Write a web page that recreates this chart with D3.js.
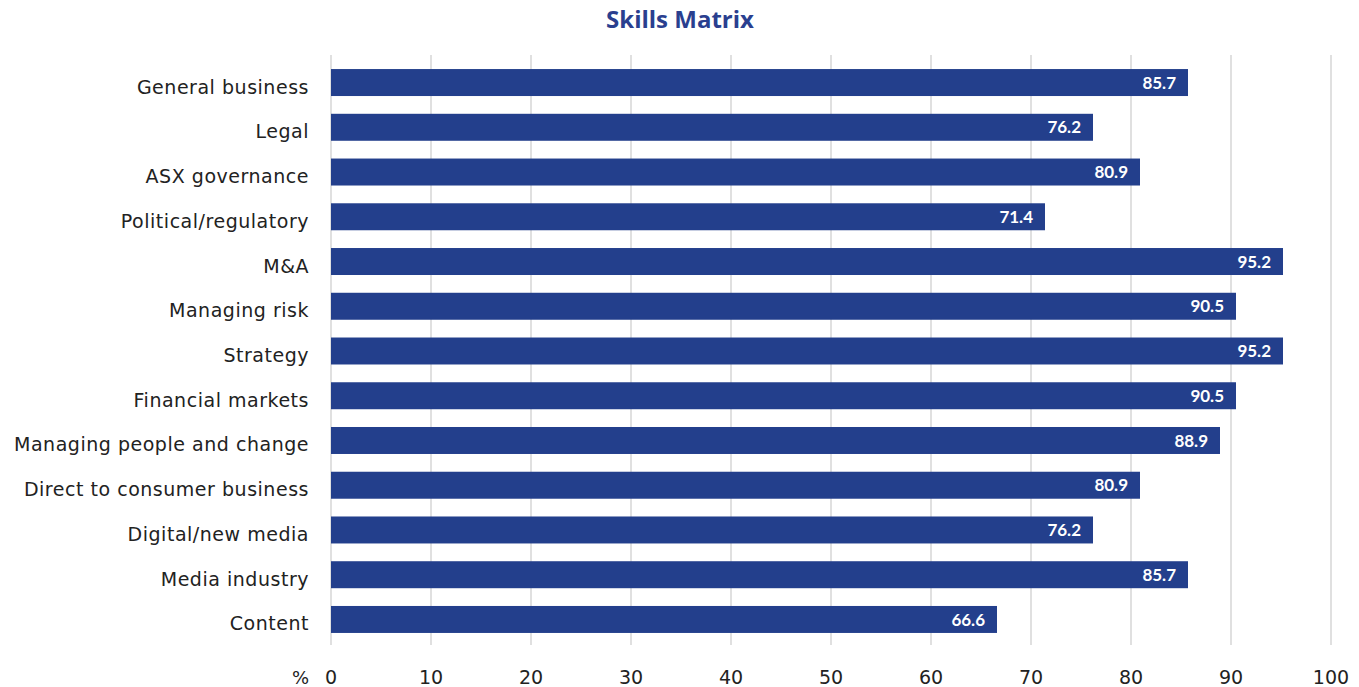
<!DOCTYPE html>
<html><head><meta charset="utf-8">
<script src="https://cdn.jsdelivr.net/npm/d3@7"></script>
<style>body{margin:0;background:#fff}svg{display:block}</style>
</head><body><svg id="c" width="1359" height="687"></svg>
<script>
const categories = ["General business","Legal","ASX governance","Political/regulatory","M&A","Managing risk","Strategy","Financial markets","Managing people and change","Direct to consumer business","Digital/new media","Media industry","Content"];
const values = [85.7,76.2,80.9,71.4,95.2,90.5,95.2,90.5,88.9,80.9,76.2,85.7,66.6];
const ticks = [0,10,20,30,40,50,60,70,80,90,100];
const title = "Skills Matrix";

const svg = d3.select("#c");
const x = d3.scaleLinear().domain([0,100]).range([331,1331]);
const y = d3.scaleBand().domain(categories).range([60.1,641.9]).paddingInner(0.397).paddingOuter(0.2);
const navy = "#233f8c";
const font = "'DejaVu Sans', sans-serif";

svg.append("g").selectAll("line").data(ticks).join("line")
  .attr("x1", d=>x(d)).attr("x2", d=>x(d)).attr("y1",55).attr("y2",645)
  .attr("stroke","#d9d9d9").attr("stroke-width",1.6);

svg.append("g").selectAll("rect").data(values).join("rect")
  .attr("x", x(0)).attr("y",(d,i)=>y(categories[i]))
  .attr("width", d=>x(d)-x(0)).attr("height", y.bandwidth()).attr("fill", navy);

svg.append("g").selectAll("text").data(values).join("text")
  .attr("x", d=>x(d)-12).attr("y",(d,i)=>y(categories[i])+y.bandwidth()/2)
  .attr("dy","0.36em").attr("text-anchor","end").attr("fill","#fff")
  .attr("font-family","Lato, sans-serif").attr("font-weight","bold").attr("font-size",17)
  .text(d=>d.toFixed(1));

const labels = svg.append("g").selectAll("text").data(categories).join("text")
  .attr("x",309).attr("y",d=>y(d)+y.bandwidth()/2+11)
  .attr("text-anchor","end").attr("fill","#222").attr("font-family",font).attr("font-size",19)
  .text(d=>d);
// fit letter spacing so the longest label spans like the reference (~295px)
const longest = labels.filter(d=>d==="Managing people and change").node();
const w = longest.getComputedTextLength();
const ls = (295 - w) / ("Managing people and change".length);
labels.attr("letter-spacing", ls);

svg.append("g").selectAll("text").data(ticks).join("text")
  .attr("x",d=>x(d)).attr("y",683.5).attr("text-anchor","middle")
  .attr("fill","#222").attr("font-family",font).attr("font-size",19).text(d=>d);

svg.append("text").attr("x",309).attr("y",683.5).attr("text-anchor","end")
  .attr("fill","#222").attr("font-family",font).attr("font-size",18).text("%");

svg.append("text").attr("x",680).attr("y",28).attr("text-anchor","middle")
  .attr("fill","#2a3f8f").attr("font-family","'Open Sans', sans-serif").attr("font-weight","bold")
  .attr("font-size",24).text(title);
</script></body></html>
